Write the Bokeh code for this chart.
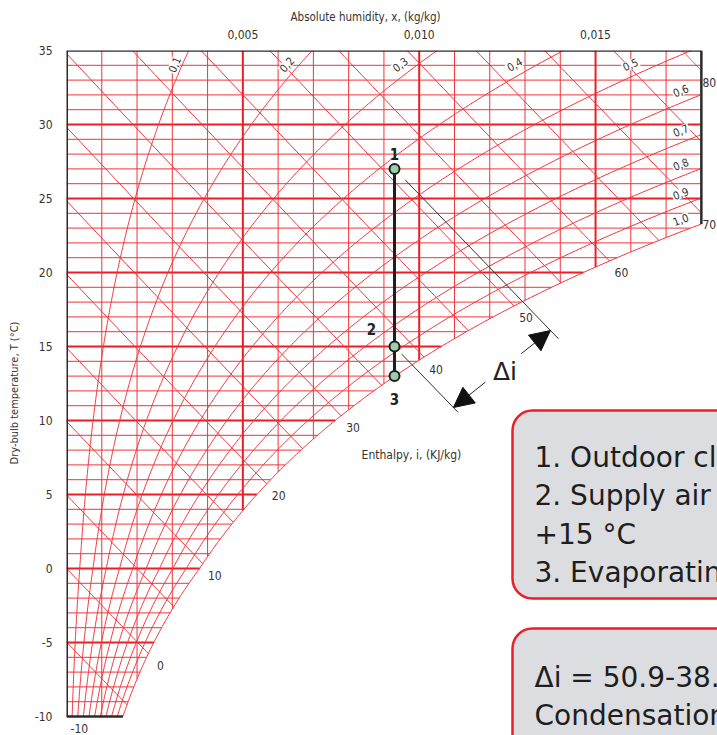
import numpy as np
from bokeh.plotting import figure
from bokeh.models import Range1d, FixedTicker, Title, Arrow, NormalHead, BoxAnnotation
from bokeh.core.properties import value
from bokeh.embed import file_html
from bokeh.resources import INLINE

# ---------------------------------------------------------------- data ----
point_labels = ["1", "2", "3"]
point_x = [0.0093, 0.0093, 0.0093]     # absolute humidity, kg/kg
point_t = [27.0, 15.0, 13.0]           # dry-bulb temperature, °C
delta_i_values = [50.9, 38.6]          # enthalpy of points 1 and 2, kJ/kg

rh_levels = [0.1, 0.2, 0.3, 0.4, 0.5, 0.6, 0.7, 0.8, 0.9, 1.0]
rh_labels = ["0,1", "0,2", "0,3", "0,4", "0,5", "0,6", "0,7", "0,8", "0,9", "1,0"]
enthalpy_levels = list(range(-10, 85, 5))
enthalpy_label_levels = list(range(-10, 85, 10))
temp_ticks = [-10, -5, 0, 5, 10, 15, 20, 25, 30, 35]
hum_ticks = [0.005, 0.010, 0.015]
hum_tick_labels = ["0,005", "0,010", "0,015"]

info_lines = ["1. Outdoor climate",
              "2. Supply air temp.",
              "+15 °C",
              "3. Evaporating"]
result_lines = ["Δi = 50.9-38.6",
                "Condensation"]

# ------------------------------------------------------- psychrometrics ----
P_ATM = 101325.0
X_MAX, T_MIN, T_MAX = 0.018, -10.0, 35.0


def p_sat(t):
    t = np.asarray(t, float)
    water = 611.2 * np.exp(17.62 * t / (243.12 + t))
    ice = 611.2 * np.exp(22.46 * t / (272.62 + t))
    return np.where(t >= 0, water, ice)


def x_of(t, phi):
    pw = phi * p_sat(t)
    return 0.622 * pw / (P_ATM - pw)


def t_from_ps(ps):
    L = np.log(np.asarray(ps, float) / 611.2)
    return np.where(L >= 0, 243.12 * L / (17.62 - L), 272.62 * L / (22.46 - L))


def t_dew(x):
    x = np.asarray(x, float)
    return t_from_ps(x * P_ATM / (0.622 + x))


def t_of_i(i, x):
    return (i - 2501.0 * np.asarray(x, float)) / (1.006 + 1.86 * np.asarray(x, float))


def enthalpy_end(i):
    f = lambda x: float(t_of_i(i, x) - t_dew(x))
    if f(X_MAX) > 0:
        xs = X_MAX
    else:
        lo, hi = 1e-8, X_MAX
        for _ in range(60):
            mid = 0.5 * (lo + hi)
            if f(mid) > 0:
                lo = mid
            else:
                hi = mid
        xs = lo
    xb = (i - 1.006 * T_MIN) / (2501.0 + 1.86 * T_MIN)
    return min(xs, xb) if xb > 0 else xs


# --------------------------------------------------------------- figure ----
W, H = 717, 735
FL, FT = 66, 50
FW, FH = W - FL, H - FT
PX_PER_X = 35270.0     # pixels per kg/kg
PX_PER_T = 14.8        # pixels per °C
x_right = FW / PX_PER_X
t_bottom = T_MAX - FH / PX_PER_T

p = figure(width=W, height=H, output_backend="svg", toolbar_location=None,
           x_range=Range1d(0, x_right), y_range=Range1d(t_bottom, T_MAX),
           x_axis_location="above", y_axis_location="left",
           min_border_left=FL, min_border_top=FT, min_border_right=0, min_border_bottom=0)
p.grid.visible = False
p.outline_line_color = None
p.background_fill_color = "white"
p.border_fill_color = "white"

AXIS_FONT = "'Liberation Sans Narrow', 'DejaVu Sans Condensed', sans-serif"
BOX_FONT = "'DejaVu Sans', sans-serif"
TXT = "#333333"

for ax in (p.xaxis[0], p.yaxis[0]):
    ax.axis_line_color = None
    ax.major_tick_line_color = None
    ax.minor_tick_line_color = None
    ax.major_label_text_font = AXIS_FONT
    ax.major_label_text_font_size = "12px"
    ax.major_label_text_color = TXT
    ax.axis_label_text_font = AXIS_FONT
    ax.axis_label_text_font_size = "11px"
    ax.axis_label_text_font_style = "normal"
    ax.axis_label_text_color = TXT

p.yaxis.ticker = FixedTicker(ticks=temp_ticks)
p.yaxis.major_label_overrides = {t: str(t) for t in temp_ticks}
p.yaxis.major_label_standoff = 8
p.yaxis.axis_label = "Dry-bulb temperature, T (°C)"
p.yaxis.axis_label_standoff = 11

p.xaxis.ticker = FixedTicker(ticks=hum_ticks)
p.xaxis.major_label_overrides = dict(zip(hum_ticks, hum_tick_labels))
p.xaxis.major_label_standoff = 6

p.add_layout(Title(text="Absolute humidity, x, (kg/kg)", align="left", offset=224,
                   text_font=AXIS_FONT, text_font_size="11.5px", text_font_style="normal",
                   text_color=TXT, standoff=6), "above")

RED = "#ee1d25"
THIN = "#f0343a"

# -------------------------------------------------------------- grid ----
h_xs, h_ys, h_w = [], [], []
for t in range(int(T_MIN) + 1, int(T_MAX)):
    xe = min(X_MAX, float(x_of(t, 1.0)))
    h_xs.append([0, xe]); h_ys.append([t, t]); h_w.append(2.0 if t % 5 == 0 else 1.0)
v_xs, v_ys, v_w = [], [], []
for k in range(1, 18):
    xk = k / 1000.0
    tb = max(T_MIN, float(t_dew(xk)))
    v_xs.append([xk, xk]); v_ys.append([tb, T_MAX]); v_w.append(2.0 if k % 5 == 0 else 1.0)

for xs, ys, ws in ((h_xs, h_ys, h_w), (v_xs, v_ys, v_w)):
    cols = [RED if w > 1 else THIN for w in ws]
    p.multi_line(xs, ys, line_color=cols, line_width=ws)

# relative humidity curves
ts = np.linspace(T_MIN, T_MAX, 400)
rh_xs, rh_ys = [], []
for phi in rh_levels:
    xs = x_of(ts, phi)
    keep = xs <= X_MAX
    cx, cy = list(xs[keep]), list(ts[keep])
    if not keep.all():
        cx.append(X_MAX); cy.append(float(np.interp(X_MAX, xs, ts)))
    rh_xs.append(cx); rh_ys.append(cy)
p.multi_line(rh_xs, rh_ys, line_color=THIN, line_width=1)

# enthalpy lines
en_xs, en_ys, lab_x, lab_y, lab_dx = [], [], [], [], []
for i in enthalpy_levels:
    x0 = max(0.0, (i - 1.006 * T_MAX) / (2501.0 + 1.86 * T_MAX))
    x1 = enthalpy_end(i)
    xs = np.linspace(x0, x1, 40)
    en_xs.append(list(xs)); en_ys.append(list(np.maximum(t_of_i(i, xs), T_MIN)))
    if i in enthalpy_label_levels:
        lab_x.append(x1); lab_y.append(max(T_MIN, float(t_of_i(i, x1))))
        lab_dx.append(8 if x1 >= X_MAX else 12)
p.multi_line(en_xs, en_ys, line_color=THIN, line_width=1)

# chart borders
sat_x_bottom = float(x_of(T_MIN, 1.0))
p.multi_line([[0, 0], [0, X_MAX], [X_MAX, X_MAX], [0, sat_x_bottom]],
             [[T_MIN, T_MAX], [T_MAX, T_MAX], [float(t_dew(X_MAX)), T_MAX], [T_MIN, T_MIN]],
             line_color="#2b2b2b", line_width=[3, 2.5, 2.5, 2.5])

# enthalpy labels
p.text(x=lab_x, y=lab_y, text=[str(v) for v in enthalpy_label_levels],
       x_offset=lab_dx, y_offset=12, text_align="center", text_baseline="middle",
       text_font=value(AXIS_FONT), text_font_size="12px", text_color=TXT)
p.text(x=[0.00978], y=[7.65], text=["Enthalpy, i, (KJ/kg)"], text_align="center",
       text_baseline="middle", text_font=value(AXIS_FONT), text_font_size="12px", text_color=TXT)

# relative humidity labels
rl_x, rl_y, rl_a = [], [], []
for phi in rh_levels:
    t_up = 33.3
    if float(x_of(t_up, phi)) <= 0.0172:
        xl, tl = float(x_of(t_up, phi)), t_up
        dx = float(x_of(tl + 0.1, phi) - x_of(tl - 0.1, phi)); dt = 0.2
    else:
        xl = 0.0175
        tl = float(t_from_ps(xl * P_ATM / (0.622 + xl) / phi))
        t2 = float(t_from_ps((xl + 1e-4) * P_ATM / (0.622 + xl + 1e-4) / phi))
        dx, dt = 1e-4, t2 - tl
    rl_x.append(xl); rl_y.append(tl); rl_a.append(float(np.arctan2(dt * PX_PER_T, dx * PX_PER_X)))
p.text(x=rl_x, y=rl_y, text=rh_labels, angle=rl_a, x_offset=-3, y_offset=-11,
       text_align="center", text_baseline="middle", text_font=value(AXIS_FONT),
       text_font_size="11px", text_color=TXT, background_fill_color="white", padding=1)

# ------------------------------------------------------ process points ----
p.line(point_x, point_t, line_color="#1f1f1f", line_width=3)
p.scatter(point_x, point_t, size=10, fill_color="#9ccfa6", line_color="#1f1f1f", line_width=2)
p.text(x=point_x, y=point_t, text=point_labels, x_offset=[0, -23, 0], y_offset=[-15, -18, 23],
       text_align="center", text_baseline="middle", text_font=value(AXIS_FONT),
       text_font_size="15px", text_font_style="bold", text_color="#222222")

# Δi dimension: enthalpy lines through points 1 and 2, with arrows between
dim_start = [point_x[0] + 0.0003, point_x[1] + 0.0002]
dim_end = [0.01395, 0.0111]
for iv, xs0, xs1 in zip(delta_i_values, dim_start, dim_end):
    xs = np.array([xs0, xs1])
    p.line(xs, t_of_i(iv, xs), line_color="#333333", line_width=1)

tip_a = (0.01372, float(t_of_i(delta_i_values[0], 0.01372)))
tip_b = (0.01097, float(t_of_i(delta_i_values[1], 0.01097)))
for tip, other, frac in ((tip_a, tip_b, 0.30), (tip_b, tip_a, 0.33)):
    sx = tip[0] + frac * (other[0] - tip[0])
    sy = tip[1] + frac * (other[1] - tip[1])
    p.add_layout(Arrow(x_start=sx, y_start=sy, x_end=tip[0], y_end=tip[1], line_width=1,
                       line_color="#222222",
                       end=NormalHead(size=20, fill_color="#111111", line_color="#111111")))
p.text(x=[0.5 * (tip_a[0] + tip_b[0])], y=[0.5 * (tip_a[1] + tip_b[1])], text=["Δi"],
       x_offset=3, y_offset=2, text_align="center", text_baseline="middle",
       text_font=value(BOX_FONT), text_font_size="25px", text_color="#222222")


# ---------------------------------------------------------- info boxes ----
def to_data(xp, yp):
    return (xp - FL) / PX_PER_X, T_MAX - (yp - FT) / PX_PER_T


for top_px, bot_px in ((410, 598), (628, 800)):
    l, t = to_data(512, top_px)
    r, b = to_data(800, bot_px)
    p.add_layout(BoxAnnotation(left=l, right=r, top=t, bottom=b, border_radius=20,
                               fill_color="#dcdde0", fill_alpha=1.0,
                               line_color="#ea1f27", line_alpha=1.0, line_width=2.5,
                               level="underlay"))

for lines, base_px in ((info_lines, [457, 495, 534, 572]), (result_lines, [677, 715])):
    xs, ys = [], []
    for bp in base_px:
        xd, yd = to_data(534, bp)
        xs.append(xd); ys.append(yd)
    p.text(x=xs, y=ys, text=lines, text_align="left", text_baseline="alphabetic",
           text_font=value(BOX_FONT), text_font_size="28px", text_color="#1e1e1e")

open("out.html", "w").write(file_html(p, INLINE))
